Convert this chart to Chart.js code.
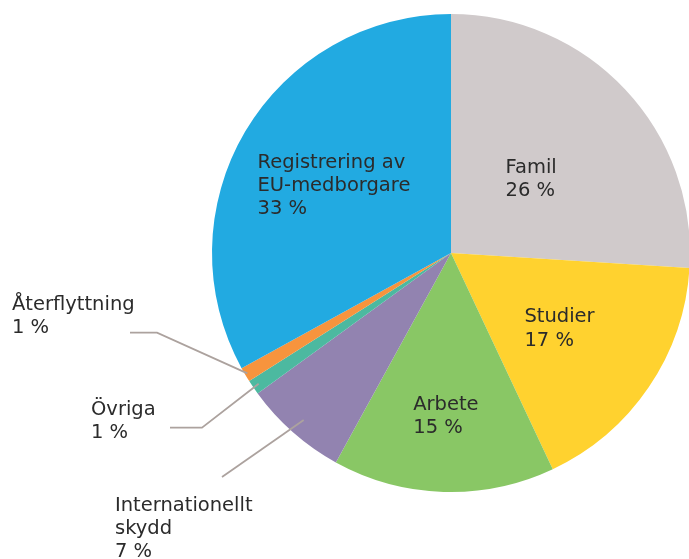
<!DOCTYPE html>
<html lang="sv">
<head>
<meta charset="utf-8">
<title>Uppehållstillstånd per grund</title>
<script src="https://cdn.jsdelivr.net/npm/chart.js@4/dist/chart.umd.min.js"></script>
<style>
  html, body { margin: 0; padding: 0; background: #fff; overflow: hidden; }
  canvas { display: block; }
</style>
</head>
<body>
<canvas id="pieChart" width="690" height="559"></canvas>
<script>
// grounds, clockwise from the top
const categories = [
  ["Famil"],
  ["Studier"],
  ["Arbete"],
  ["Internationellt", "skydd"],
  ["Övriga"],
  ["Återflyttning"],
  ["Registrering av", "EU-medborgare"],
];
const shares = [26, 17, 15, 7, 1, 1, 33];
const sliceColors = ["#d0cacb", "#ffd22f", "#89c765", "#9283b0", "#4cb9a0", "#f7943d", "#22aae1"];

// where each label goes: inside at a fraction of the radius, or outside with a leader line
const labelPlacement = [
  { inside: 0.46 },
  { inside: 0.549 },
  { inside: 0.675 },
  { from: 0.932, path: [[222, 477]], text: [115, 510.7] },
  { from: 0.973, path: [[202, 427.7], [170, 427.7]], text: [91, 415] },
  { from: 0.99, path: [[157, 332.7], [130, 332.7]], text: [12, 309.5] },
  { inside: 0.569 },
];

const FONT_SIZE = 19.5;
const LINE_H = 23.3;
const CAP_H = FONT_SIZE * 0.729;

const sliceLabels = {
  id: "sliceLabels",
  afterDraw(chart) {
    const ctx = chart.ctx;
    const arcs = chart.getDatasetMeta(0).data;
    ctx.save();
    ctx.font = FONT_SIZE + 'px "DejaVu Sans", Verdana, sans-serif';
    ctx.fillStyle = "#2b2b2b";
    ctx.textAlign = "left";
    ctx.textBaseline = "alphabetic";

    arcs.forEach((arc, i) => {
      const p = labelPlacement[i];
      const mid = (arc.startAngle + arc.endAngle) / 2;
      const lines = categories[i].concat([shares[i] + " %"]);
      const at = (f) => [arc.x + Math.cos(mid) * arc.outerRadius * f,
                         arc.y + Math.sin(mid) * arc.outerRadius * f];

      if (p.inside) {
        const [cx, cy] = at(p.inside);
        const w = Math.max(...lines.map((l) => ctx.measureText(l).width));
        const h = CAP_H + (lines.length - 1) * LINE_H;
        const left = cx - w / 2;
        const base = cy - h / 2 + CAP_H;
        lines.forEach((l, j) => ctx.fillText(l, left, base + j * LINE_H));
      } else {
        const [sx, sy] = at(p.from);
        ctx.strokeStyle = "#aca29e";
        ctx.lineWidth = 1.8;
        ctx.beginPath();
        ctx.moveTo(sx, sy);
        p.path.forEach(([x, y]) => ctx.lineTo(x, y));
        ctx.stroke();
        lines.forEach((l, j) => ctx.fillText(l, p.text[0], p.text[1] + j * LINE_H));
      }
    });
    ctx.restore();
  },
};

new Chart(document.getElementById("pieChart"), {
  type: "pie",
  data: {
    labels: categories.map((c) => c.join(" ")),
    datasets: [
      {
        data: shares,
        backgroundColor: sliceColors,
        borderWidth: 0,
      },
    ],
  },
  options: {
    responsive: false,
    animation: false,
    layout: { padding: { left: 212, top: 14, right: 0, bottom: 67 } },
    plugins: {
      legend: { display: false },
      tooltip: { enabled: false },
    },
  },
  plugins: [sliceLabels],
});
</script>
</body>
</html>
